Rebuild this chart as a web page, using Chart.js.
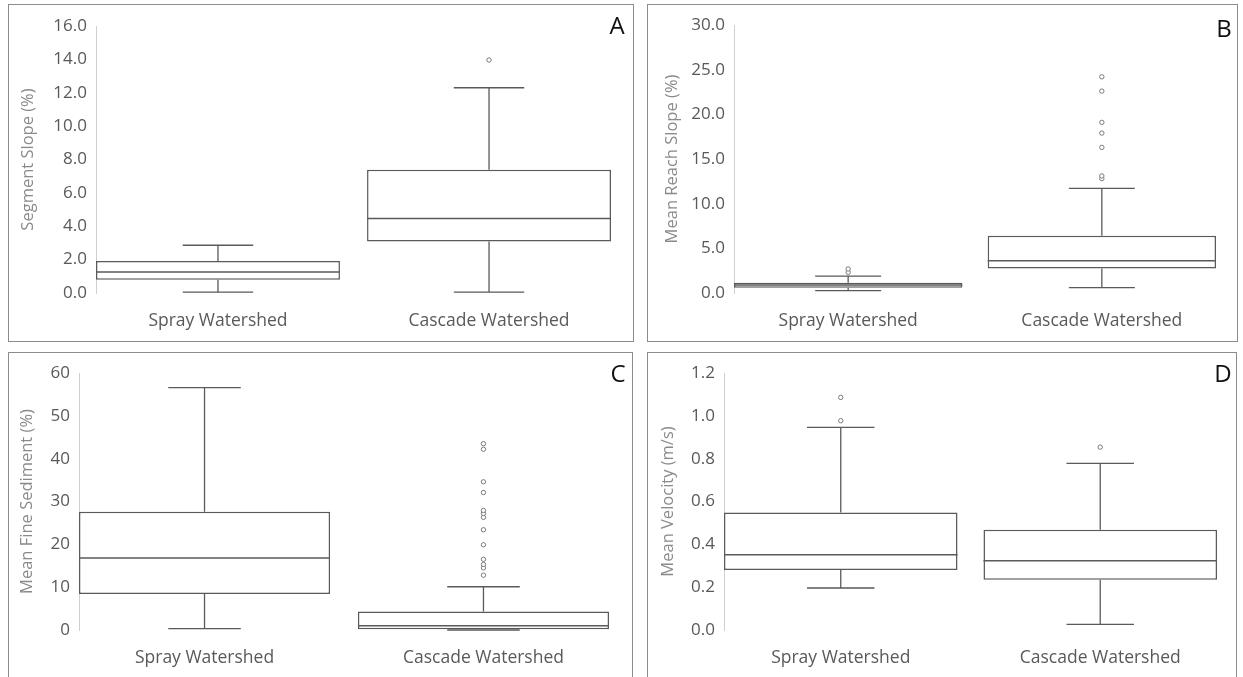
<!DOCTYPE html>
<html>
<head>
<meta charset="utf-8">
<script src="https://cdn.jsdelivr.net/npm/chart.js@4"></script>
<style>
  html, body { margin: 0; padding: 0; background: #fff; overflow: hidden; }
  body { width: 1243px; height: 677px; position: relative; font-family: "Open Sans", Lato, sans-serif; }
  .panel { position: absolute; box-sizing: border-box; border: 1px solid #8c8c8c; background: #fff; }
  .panel canvas { display: block; }
  .tag { position: absolute; font-size: 24px; line-height: 1; color: #111; transform: translate(-50%, -50%); }
</style>
</head>
<body>

<div class="panel" style="left:8px;top:4px;width:626px;height:338px"><canvas id="chartA" width="624" height="336"></canvas></div>
<div class="panel" style="left:647px;top:4px;width:591px;height:338px"><canvas id="chartB" width="589" height="336"></canvas></div>
<div class="panel" style="left:8px;top:352px;width:625px;height:338px"><canvas id="chartC" width="623" height="336"></canvas></div>
<div class="panel" style="left:647px;top:352px;width:590px;height:338px"><canvas id="chartD" width="588" height="336"></canvas></div>

<div class="tag" style="left:617px;top:25px">A</div>
<div class="tag" style="left:1224px;top:28px">B</div>
<div class="tag" style="left:618px;top:373px">C</div>
<div class="tag" style="left:1223px;top:373px">D</div>

<script>
// ---- data ----
const categories = ['Spray Watershed', 'Cascade Watershed'];

// A - segment slope (%)
const slopeMin = [0.05, 0.05];
const slopeQ1 = [0.80, 3.08];
const slopeMed = [1.26, 4.46];
const slopeQ3 = [1.92, 7.38];
const slopeMax = [2.86, 12.3];
const slopeOutSpray = [];
const slopeOutCascade = [13.96];
const slopeTicks = [0, 16, 2];

// B - mean reach slope (%)
const reachMin = [0.26, 0.6];
const reachQ1 = [0.6, 2.73];
const reachMed = [0.9, 3.6];
const reachQ3 = [1.15, 6.4];
const reachMax = [1.9, 11.72];
const reachOutSpray = [2.32, 2.69];
const reachOutCascade = [12.8, 13.1, 16.3, 17.9, 19.1, 22.6, 24.2];
const reachTicks = [0, 30, 5];

// C - mean fine sediment (%)
const fineMin = [0.3, 0];
const fineQ1 = [8.4, 0.15];
const fineMed = [16.8, 1.0];
const fineQ3 = [27.6, 4.3];
const fineMax = [56.6, 10.1];
const fineOutSpray = [];
const fineOutCascade = [12.8, 14.5, 15.3, 16.5, 19.9, 23.4, 26.3, 27.2, 27.9, 32.1, 34.6, 42.2, 43.5];
const fineTicks = [0, 60, 10];

// D - mean velocity (m/s)
const velMin = [0.196, 0.026];
const velQ1 = [0.28, 0.235];
const velMed = [0.351, 0.323];
const velQ3 = [0.549, 0.468];
const velMax = [0.946, 0.778];
const velOutSpray = [0.977, 1.086];
const velOutCascade = [0.854];
const velTicks = [0, 1.2, 0.2];

// ---- styles ----
const LINE = '#5a5a5a';
const TICK_COLOR = '#595959';
const TITLE_COLOR = '#8a8a8a';
const FONT = '"Open Sans", Lato, sans-serif';

// whiskers + median lines, drawn through the chart scales
function whiskerPlugin(mins, meds, maxs, q1s, q3s) {
  return {
    id: 'whiskers',
    afterDatasetsDraw(chart) {
      const { ctx, scales: { x, y } } = chart;
      ctx.save();
      ctx.strokeStyle = LINE;
      for (let i = 0; i < categories.length; i++) {
        const cx = x.getPixelForValue(i + 1);
        const half = x.getPixelForValue(i + 1 + 0.13) - cx;
        const boxHalf = x.getPixelForValue(i + 1 + 0.45) - cx;
        // whiskers
        ctx.lineWidth = 1.3;
        ctx.beginPath();
        ctx.moveTo(cx, y.getPixelForValue(q3s[i]));
        ctx.lineTo(cx, y.getPixelForValue(maxs[i]));
        ctx.moveTo(cx - half, y.getPixelForValue(maxs[i]));
        ctx.lineTo(cx + half, y.getPixelForValue(maxs[i]));
        ctx.moveTo(cx, y.getPixelForValue(q1s[i]));
        ctx.lineTo(cx, y.getPixelForValue(mins[i]));
        ctx.moveTo(cx - half, y.getPixelForValue(mins[i]));
        ctx.lineTo(cx + half, y.getPixelForValue(mins[i]));
        ctx.stroke();
        // median
        ctx.lineWidth = 1.5;
        ctx.beginPath();
        ctx.moveTo(cx - boxHalf, y.getPixelForValue(meds[i]));
        ctx.lineTo(cx + boxHalf, y.getPixelForValue(meds[i]));
        ctx.stroke();
      }
      ctx.restore();
    }
  };
}

function makeBoxChart(id, s) {
  const boxes = categories.map((c, i) => ({ x: i + 1, y: [s.q1[i], s.q3[i]] }));
  const outliers = s.outSpray.map(v => ({ x: 1, y: v }))
    .concat(s.outCascade.map(v => ({ x: 2, y: v })));

  return new Chart(document.getElementById(id), {
    type: 'bar',
    data: {
      datasets: [
        {
          type: 'bar',
          data: boxes,
          backgroundColor: '#ffffff',
          borderColor: LINE,
          borderWidth: 1.5,
          borderSkipped: false,
          barPercentage: 0.9,
          categoryPercentage: 1.0
        },
        {
          type: 'scatter',
          data: outliers,
          pointStyle: 'circle',
          pointRadius: 2.2,
          pointBorderWidth: 1,
          pointBorderColor: '#7a7a7a',
          pointBackgroundColor: '#ffffff'
        }
      ]
    },
    options: {
      responsive: false,
      animation: false,
      layout: { padding: { top: s.padTop, right: s.padRight, left: 0, bottom: 0 } },
      plugins: { legend: { display: false }, tooltip: { enabled: false } },
      scales: {
        x: {
          type: 'linear',
          offset: false,
          min: 0.55,
          max: 2.45,
          grid: { display: false, drawTicks: false },
          border: { display: false },
          afterBuildTicks: sc => { sc.ticks = categories.map((c, i) => ({ value: i + 1 })); },
          afterFit: sc => { sc.height = s.xHeight; },
          ticks: {
            padding: 18,
            color: TICK_COLOR,
            font: { family: FONT, size: 17.5 },
            maxRotation: 0,
            callback: v => categories[v - 1]
          }
        },
        y: {
          min: s.ticks[0],
          max: s.ticks[1],
          grid: { display: false, drawTicks: false },
          border: { display: true, color: '#cfcfcf', dash: [1, 2] },
          afterFit: sc => { sc.width = s.yWidth; },
          ticks: {
            stepSize: s.ticks[2],
            padding: 9,
            color: TICK_COLOR,
            font: { family: FONT, size: 17 },
            callback: v => v.toFixed(s.decimals)
          },
          title: {
            display: true,
            text: s.title,
            color: TITLE_COLOR,
            font: { family: FONT, size: 16.5 },
            padding: { top: s.titlePad, bottom: 0 }
          }
        }
      }
    },
    plugins: [whiskerPlugin(s.min, s.med, s.max, s.q1, s.q3)]
  });
}

makeBoxChart('chartA', {
  min: slopeMin, q1: slopeQ1, med: slopeMed, q3: slopeQ3, max: slopeMax,
  outSpray: slopeOutSpray, outCascade: slopeOutCascade, ticks: slopeTicks,
  decimals: 1, title: 'Segment Slope (%)',
  yWidth: 87, xHeight: 48, padTop: 21, padRight: 22, titlePad: 9
});
makeBoxChart('chartB', {
  min: reachMin, q1: reachQ1, med: reachMed, q3: reachQ3, max: reachMax,
  outSpray: reachOutSpray, outCascade: reachOutCascade, ticks: reachTicks,
  decimals: 1, title: 'Mean Reach Slope (%)',
  yWidth: 86, xHeight: 48, padTop: 20, padRight: 21, titlePad: 14
});
makeBoxChart('chartC', {
  min: fineMin, q1: fineQ1, med: fineMed, q3: fineQ3, max: fineMax,
  outSpray: fineOutSpray, outCascade: fineOutCascade, ticks: fineTicks,
  decimals: 0, title: 'Mean Fine Sediment (%)',
  yWidth: 70, xHeight: 59, padTop: 20, padRight: 23, titlePad: 8
});
makeBoxChart('chartD', {
  min: velMin, q1: velQ1, med: velMed, q3: velQ3, max: velMax,
  outSpray: velOutSpray, outCascade: velOutCascade, ticks: velTicks,
  decimals: 1, title: 'Mean Velocity (m/s)',
  yWidth: 76, xHeight: 59, padTop: 20, padRight: 19, titlePad: 10
});
</script>
</body>
</html>
